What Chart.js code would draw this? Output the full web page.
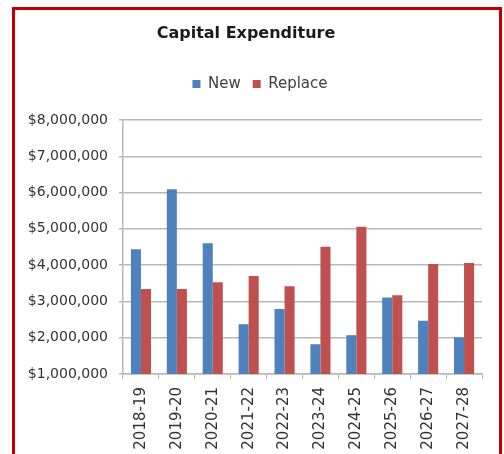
<!DOCTYPE html>
<html>
<head>
<meta charset="utf-8">
<script src="https://cdn.jsdelivr.net/npm/chart.js@4/dist/chart.umd.min.js"></script>
<style>
  html, body { margin: 0; padding: 0; background: #ffffff; overflow: hidden; }
  #frame {
    position: absolute; left: 12px; top: 7px; width: 484px; height: 500px;
    border: 3px solid #c00000; background: #ffffff;
  }
  #wrap { position: absolute; left: 0; top: 0; width: 504px; height: 454px; }
</style>
</head>
<body>
<div id="frame"></div>
<div id="wrap"><canvas id="c" width="504" height="454"></canvas></div>
<script>
// Capital expenditure per financial year, split into new and replacement spending
const years = ['2018-19', '2019-20', '2020-21', '2021-22', '2022-23',
               '2023-24', '2024-25', '2025-26', '2026-27', '2027-28'];
const newSpend = [4440000, 6090000, 4600000, 2370000, 2790000,
                  1820000, 2070000, 3110000, 2470000, 2010000];
const replaceSpend = [3340000, 3340000, 3530000, 3700000, 3420000,
                      4510000, 5060000, 3170000, 4030000, 4060000];
const yMin = 1000000;
const yMax = 8000000;
const yStep = 1000000;

const FONT = "'DejaVu Sans', sans-serif";
const gridGrey = '#b8b8b8';

// Empty band between the legend and the plot area
const legendGap = {
  id: 'legendGap',
  beforeInit(chart) {
    Chart.layouts.addBox(chart, {
      position: 'top', weight: -1, fullSize: true, options: {},
      left: 0, top: 0, right: 0, bottom: 0, width: 0, height: 0,
      isHorizontal() { return true; },
      update(maxWidth) { this.width = maxWidth; this.height = 18.5; },
      draw() {}
    });
  },
  // legend sits a little right of the title
  afterLayout(chart) {
    chart.legend.left += 14;
    chart.legend.right += 14;
  }
};

new Chart(document.getElementById('c'), {
  type: 'bar',
  data: {
    labels: years,
    datasets: [
      { label: 'New', data: newSpend, backgroundColor: '#4f81bd', borderWidth: 0,
        categoryPercentage: 0.56, barPercentage: 1.0 },
      { label: 'Replace', data: replaceSpend, backgroundColor: '#c0504d', borderWidth: 0,
        categoryPercentage: 0.56, barPercentage: 1.0 }
    ]
  },
  plugins: [legendGap],
  options: {
    responsive: false,
    animation: false,
    layout: { padding: { left: 10, right: 22, top: 0, bottom: 0 } },
    plugins: {
      title: {
        display: true,
        text: 'Capital Expenditure',
        color: '#1a1a1a',
        font: { family: FONT, size: 16, weight: 'bold' },
        padding: { top: 24, bottom: 21.3 }
      },
      legend: {
        display: true,
        position: 'top',
        labels: {
          color: '#404040',
          font: { family: FONT, size: 15 },
          boxWidth: 8,
          boxHeight: 8,
          padding: 12
        }
      },
      tooltip: { enabled: false }
    },
    scales: {
      x: {
        offset: true,
        afterFit: (s) => { s.height = 80; },
        grid: { display: true, drawOnChartArea: false, drawTicks: true, tickLength: 5,
                offset: true, color: gridGrey },
        border: { display: true, color: gridGrey, width: 1.5 },
        ticks: {
          minRotation: 90, maxRotation: 90, autoSkip: false, padding: 8,
          color: '#333333', font: { family: FONT, size: 15 }
        }
      },
      y: {
        min: yMin,
        max: yMax,
        afterFit: (s) => { s.width = 113; },
        grid: { color: gridGrey, lineWidth: 1.5, tickLength: 4 },
        border: { display: true, color: gridGrey, width: 1.5 },
        ticks: {
          stepSize: yStep, padding: 11, color: '#333333',
          font: { family: FONT, size: 14 },
          callback: (v) => '$' + Number(v).toLocaleString('en-US')
        }
      }
    }
  }
});
</script>
</body>
</html>
